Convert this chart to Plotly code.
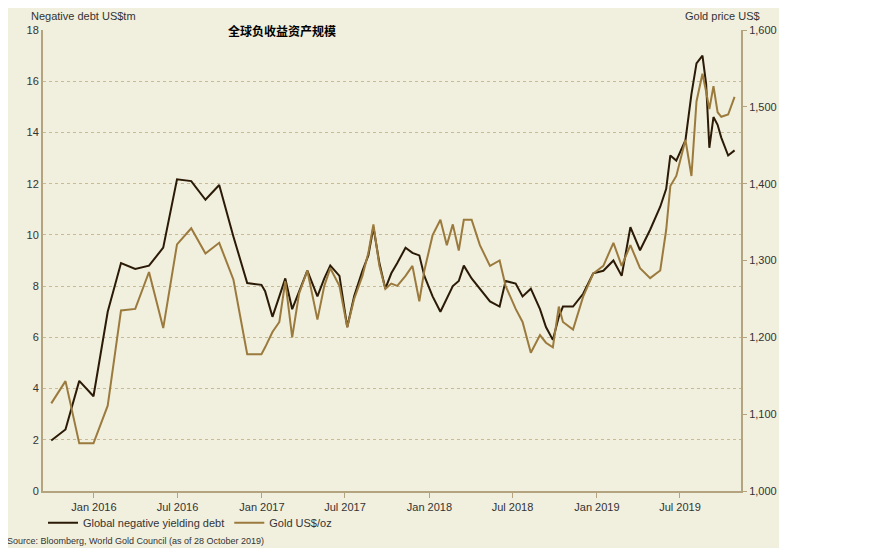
import plotly.graph_objects as go

# Monthly readings (Sep 2015 - Dec 2016)
monthly_dates = ["2015-09-30", "2015-10-31", "2015-11-30", "2015-12-31", "2016-01-31", "2016-02-29",
                 "2016-03-31", "2016-04-30", "2016-05-31", "2016-06-30", "2016-07-31", "2016-08-31",
                 "2016-09-30", "2016-10-31", "2016-11-30", "2016-12-31"]
monthly_debt = [1.97, 2.4, 4.3, 3.7, 7.0, 8.9, 8.67, 8.8, 9.5, 12.17, 12.1, 11.37, 11.95, 9.93, 8.12, 8.05]
monthly_gold = [1114, 1143, 1062, 1062, 1111, 1235, 1237, 1285, 1212, 1321, 1342, 1309, 1323, 1275, 1178, 1178]

# Higher frequency readings (2017 - Oct 2019)
daily_dates = ["2017-01-08", "2017-01-24", "2017-02-08", "2017-02-21", "2017-03-08", "2017-03-23",
               "2017-04-10", "2017-05-02", "2017-05-17", "2017-05-30", "2017-06-19", "2017-07-06",
               "2017-07-21", "2017-08-08", "2017-08-21", "2017-09-01", "2017-09-14", "2017-09-27",
               "2017-10-10", "2017-10-23", "2017-11-10", "2017-11-25", "2017-12-10", "2017-12-21",
               "2018-01-08", "2018-01-25", "2018-02-08", "2018-02-21", "2018-03-06", "2018-03-17",
               "2018-04-03", "2018-04-21", "2018-05-13", "2018-06-03", "2018-06-16", "2018-07-08",
               "2018-07-23", "2018-08-10", "2018-08-30", "2018-09-12", "2018-09-27", "2018-10-10",
               "2018-10-19", "2018-11-10", "2018-12-02", "2018-12-24", "2019-01-15", "2019-02-06",
               "2019-02-24", "2019-03-15", "2019-04-05", "2019-04-27", "2019-05-19", "2019-06-01",
               "2019-06-10", "2019-06-23", "2019-07-13", "2019-07-26", "2019-08-06", "2019-08-19",
               "2019-08-27", "2019-09-03", "2019-09-12", "2019-09-21", "2019-09-29", "2019-10-14",
               "2019-10-28"]
daily_debt = [7.8, 6.8, 7.6, 8.3, 7.1, 7.8, 8.6, 7.6, 8.3, 8.8, 8.4, 6.4,
              7.6, 8.6, 9.2, 10.3, 8.9, 7.9, 8.5, 8.9, 9.5, 9.3, 9.2, 8.4,
              7.6, 7.0, 7.5, 8.0, 8.2, 8.8, 8.3, 7.9, 7.4, 7.2, 8.2, 8.1,
              7.6, 7.9, 7.1, 6.4, 5.9, 6.8, 7.2, 7.2, 7.7, 8.5, 8.6, 9.0,
              8.4, 10.3, 9.4, 10.2, 11.1, 11.8, 13.1, 12.9, 13.7, 15.5, 16.7, 17.0,
              15.9, 13.4, 14.6, 14.3, 13.8, 13.1, 13.3]
daily_gold = [1187, 1207, 1220, 1273, 1200, 1257, 1287, 1223, 1267, 1290, 1267, 1213,
              1250, 1280, 1310, 1347, 1293, 1263, 1270, 1267, 1280, 1293, 1247, 1287,
              1333, 1353, 1320, 1347, 1313, 1353, 1353, 1320, 1293, 1300, 1267, 1237,
              1220, 1180, 1203, 1193, 1187, 1240, 1220, 1210, 1253, 1283, 1293, 1323,
              1293, 1320, 1290, 1277, 1287, 1340, 1397, 1410, 1457, 1410, 1507, 1543,
              1520, 1497, 1527, 1493, 1487, 1490, 1513]

dates = monthly_dates + daily_dates
debt = monthly_debt + daily_debt
gold = monthly_gold + daily_gold

tick_vals = ["2016-01-01", "2016-07-01", "2017-01-01", "2017-07-01",
             "2018-01-01", "2018-07-01", "2019-01-01", "2019-07-01"]
tick_text = ["Jan 2016", "Jul 2016", "Jan 2017", "Jul 2017",
             "Jan 2018", "Jul 2018", "Jan 2019", "Jul 2019"]

debt_color = "#2a1a06"
gold_color = "#9b7a3d"
axis_color = "#b3a47f"
font = "Liberation Sans, Arial, sans-serif"

fig = go.Figure()
fig.add_trace(go.Scatter(x=dates, y=debt, mode="lines", name="Global negative yielding debt",
                         line=dict(color=debt_color, width=2)))
fig.add_trace(go.Scatter(x=dates, y=gold, mode="lines", name="Gold US$/oz", yaxis="y2",
                         line=dict(color=gold_color, width=2)))

# beige background panel
fig.add_shape(type="rect", xref="paper", yref="paper", x0=-0.06, x1=1.0546, y0=-0.13, y1=1.07,
              fillcolor="#f1efdd", line=dict(width=0), layer="below")

fig.add_annotation(xref="paper", yref="paper", x=-0.02, y=1.03, xanchor="left", yanchor="middle",
                   text="Negative debt US$tm", showarrow=False, font=dict(size=11, color="#333", family=font))
fig.add_annotation(xref="paper", yref="paper", x=1.03, y=1.03, xanchor="right", yanchor="middle",
                   text="Gold price US$", showarrow=False, font=dict(size=11, color="#333", family=font))
fig.add_annotation(xref="paper", yref="paper", x=0.342, y=1.0, xanchor="center", yanchor="middle",
                   text="<b>全球负收益资产规模</b>", showarrow=False,
                   font=dict(size=12, color="#000", family="Noto Sans CJK SC"))
fig.add_annotation(xref="paper", yref="paper", x=-0.055, y=-0.108, xanchor="left", yanchor="middle",
                   text="Source: Bloomberg, World Gold Council (as of 28 October 2019)", showarrow=False,
                   font=dict(size=9, color="#333", family=font))

fig.update_layout(
    width=874, height=548,
    margin=dict(l=35, r=141, t=22, b=65, autoexpand=False),
    paper_bgcolor="white",
    plot_bgcolor="#f1efdd",
    font=dict(family=font, size=11, color="#333"),
    showlegend=True,
    legend=dict(orientation="h", x=0.0, y=-0.069, xanchor="left", yanchor="middle",
                bgcolor="rgba(0,0,0,0)", font=dict(size=11), itemwidth=30, tracegroupgap=0),
    xaxis=dict(range=["2015-09-12", "2019-11-11"], tickvals=tick_vals, ticktext=tick_text,
               showgrid=False, ticks="outside", ticklen=5, tickcolor=axis_color, automargin=False,
               showline=True, linecolor=axis_color, linewidth=2, zeroline=False),
    yaxis=dict(range=[0, 18], dtick=2, showgrid=True, gridcolor="#c9b994", griddash="dot",
               showline=True, linecolor=axis_color, linewidth=2, zeroline=False, ticks="",
               automargin=False),
    yaxis2=dict(range=[1000, 1600], dtick=100, overlaying="y", side="right", tickformat=",",
                showgrid=False, showline=True, linecolor=axis_color, linewidth=2, zeroline=False,
                ticks="outside", ticklen=4, tickcolor=axis_color, automargin=False),
)

fig.write_html("out.html")
